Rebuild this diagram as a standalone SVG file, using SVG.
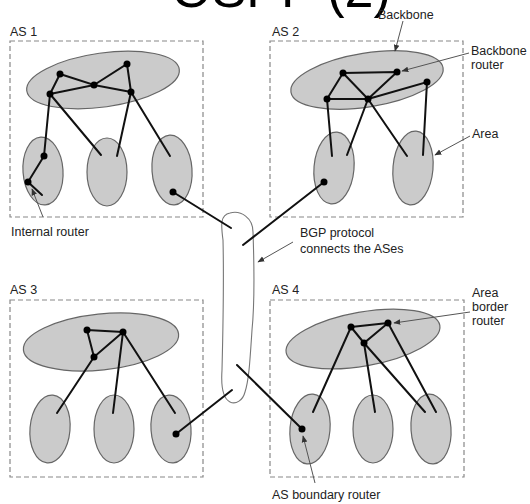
<svg xmlns="http://www.w3.org/2000/svg" width="530" height="504" viewBox="0 0 530 504">
<defs>
<style>
.t{font-family:"Liberation Sans",Arial,sans-serif;font-size:12.5px;fill:#222}
.box{fill:none;stroke:#888;stroke-width:1.2;stroke-dasharray:5 3}
.bb,.ar{fill:#cbcbcb;stroke:#666;stroke-width:1.2}
.ln{stroke:#111;stroke-width:2;fill:none;stroke-linecap:round}
.pt{stroke:#555;stroke-width:1;fill:none;marker-end:url(#ah)}
.r{fill:#000}
</style>
<marker id="ah" viewBox="0 0 10 10" refX="9" refY="5" markerWidth="7" markerHeight="7" markerUnits="userSpaceOnUse" orient="auto">
<path d="M0,1 L10,5 L0,9 Z" fill="#333"/>
</marker>
</defs>
<rect width="530" height="504" fill="#fff"/>
<text x="281" y="7" text-anchor="middle" style="font-family:'Liberation Sans',Arial,sans-serif;font-size:52px;fill:#000">OSPF (2)</text>

<g id="bgp">
<path d="M230,213 C241,210 253,218 253,232 C254,260 255,300 252,330 C250,360 249,380 245,392 C243,400 236,405 230,402 C222,398 221,385 222,370 C223,330 224,280 223,240 C221,225 220,215 230,213 Z" fill="#fff" stroke="#777" stroke-width="1.1"/>
</g>

<g id="as1">
<rect class="box" x="10" y="41" width="193" height="176"/>
<text class="t" x="10" y="36">AS 1</text>
<ellipse class="bb" cx="103" cy="80" rx="77" ry="27" transform="rotate(-8 103 80)"/>
<ellipse class="ar" cx="43" cy="171" rx="20" ry="34" transform="rotate(-4 43 171)"/>
<ellipse class="ar" cx="107" cy="172" rx="20" ry="34"/>
<ellipse class="ar" cx="172" cy="170" rx="20" ry="35" transform="rotate(-4 172 170)"/>
</g>
<g id="as2">
<rect class="box" x="270" y="41" width="193" height="176"/>
<text class="t" x="272" y="36">AS 2</text>
<ellipse class="bb" cx="367" cy="80" rx="77" ry="27" transform="rotate(-9 367 80)"/>
<ellipse class="ar" cx="334" cy="168" rx="20" ry="36" transform="rotate(5 334 168)"/>
<ellipse class="ar" cx="413" cy="168" rx="20" ry="37" transform="rotate(5 413 168)"/>
</g>
<g id="as3">
<rect class="box" x="10" y="300" width="193" height="177"/>
<text class="t" x="10" y="294">AS 3</text>
<ellipse class="bb" cx="101" cy="342" rx="78" ry="28" transform="rotate(-6 101 342)"/>
<ellipse class="ar" cx="50" cy="429" rx="20" ry="34" transform="rotate(5 50 429)"/>
<ellipse class="ar" cx="114" cy="429" rx="20" ry="34"/>
<ellipse class="ar" cx="171" cy="429" rx="20" ry="34" transform="rotate(-4 171 429)"/>
</g>
<g id="as4">
<rect class="box" x="270" y="300" width="194" height="177"/>
<text class="t" x="272" y="294">AS 4</text>
<ellipse class="bb" cx="363" cy="339" rx="78" ry="27" transform="rotate(-10 363 339)"/>
<ellipse class="ar" cx="310" cy="429" rx="20" ry="35" transform="rotate(5 310 429)"/>
<ellipse class="ar" cx="373" cy="429" rx="20" ry="34"/>
<ellipse class="ar" cx="431" cy="429" rx="20" ry="35" transform="rotate(-4 431 429)"/>
</g>

<g id="connectors">
<path class="ln" d="M60,74 L50,94 M60,74 L94,85 L127,64 L131,92 M50,94 L94,85 L131,92 M50,94 L44,156 M50,94 L101,155 M131,92 L117,156 M131,92 L170,156 M44,156 L28,182 L42,195 M173,192 L231,228"/>
<path class="ln" d="M343,73 L397,72 M343,73 L327,99 M343,73 L368,99 M327,99 L368,99 L397,72 M368,99 L427,82 L423,155 M327,99 L332,156 M368,99 L347,155 M368,99 L407,156 M324,182 L243,245"/>
<path class="ln" d="M87,330 L123,332 M87,330 L94,357 L123,332 M94,357 L57,413 M123,332 L113,413 M123,332 L175,413 M176,434 L232,390"/>
<path class="ln" d="M351,327 L388,323 M351,327 L364,343 L388,323 M351,327 L313,412 M364,343 L375,412 M364,343 L425,412 M388,323 L436,412 M237,365 L302,429"/>
<path class="pt" d="M403,21 L395,51"/>
<path class="pt" d="M469,53 L402,71"/>
<path class="pt" d="M470,136 L435,155"/>
<path class="pt" d="M43,217 L32,189"/>
<path class="pt" d="M293,242 L258,262"/>
<path class="pt" d="M470,312 L394,323"/>
<path class="pt" d="M315,483 L303,436"/>
</g>

<g id="routers">
<circle class="r" cx="60" cy="74" r="3.5"/><circle class="r" cx="127" cy="64" r="3.5"/><circle class="r" cx="94" cy="85" r="3.5"/><circle class="r" cx="50" cy="94" r="3.5"/><circle class="r" cx="131" cy="92" r="3.5"/><circle class="r" cx="44" cy="156" r="3.5"/><circle class="r" cx="28" cy="182" r="3.5"/><circle class="r" cx="173" cy="192" r="3.5"/>
<circle class="r" cx="343" cy="73" r="3.5"/><circle class="r" cx="397" cy="72" r="3.5"/><circle class="r" cx="427" cy="82" r="3.5"/><circle class="r" cx="327" cy="99" r="3.5"/><circle class="r" cx="368" cy="99" r="3.5"/><circle class="r" cx="324" cy="182" r="3.5"/>
<circle class="r" cx="87" cy="330" r="3.5"/><circle class="r" cx="123" cy="332" r="3.5"/><circle class="r" cx="94" cy="357" r="3.5"/><circle class="r" cx="176" cy="434" r="3.5"/>
<circle class="r" cx="351" cy="327" r="3.5"/><circle class="r" cx="388" cy="323" r="3.5"/><circle class="r" cx="364" cy="343" r="3.5"/><circle class="r" cx="302" cy="429" r="3.5"/>
</g>

<g id="labels">
<text class="t" x="378" y="19">Backbone</text>
<text class="t" x="471" y="55">Backbone</text>
<text class="t" x="471" y="69">router</text>
<text class="t" x="472" y="138">Area</text>
<text class="t" x="11" y="236">Internal router</text>
<text class="t" x="300" y="237">BGP protocol</text>
<text class="t" x="300" y="253">connects the ASes</text>
<text class="t" x="472" y="297">Area</text>
<text class="t" x="472" y="311">border</text>
<text class="t" x="472" y="325">router</text>
<text class="t" x="272" y="499">AS boundary router</text>
</g>
</svg>
